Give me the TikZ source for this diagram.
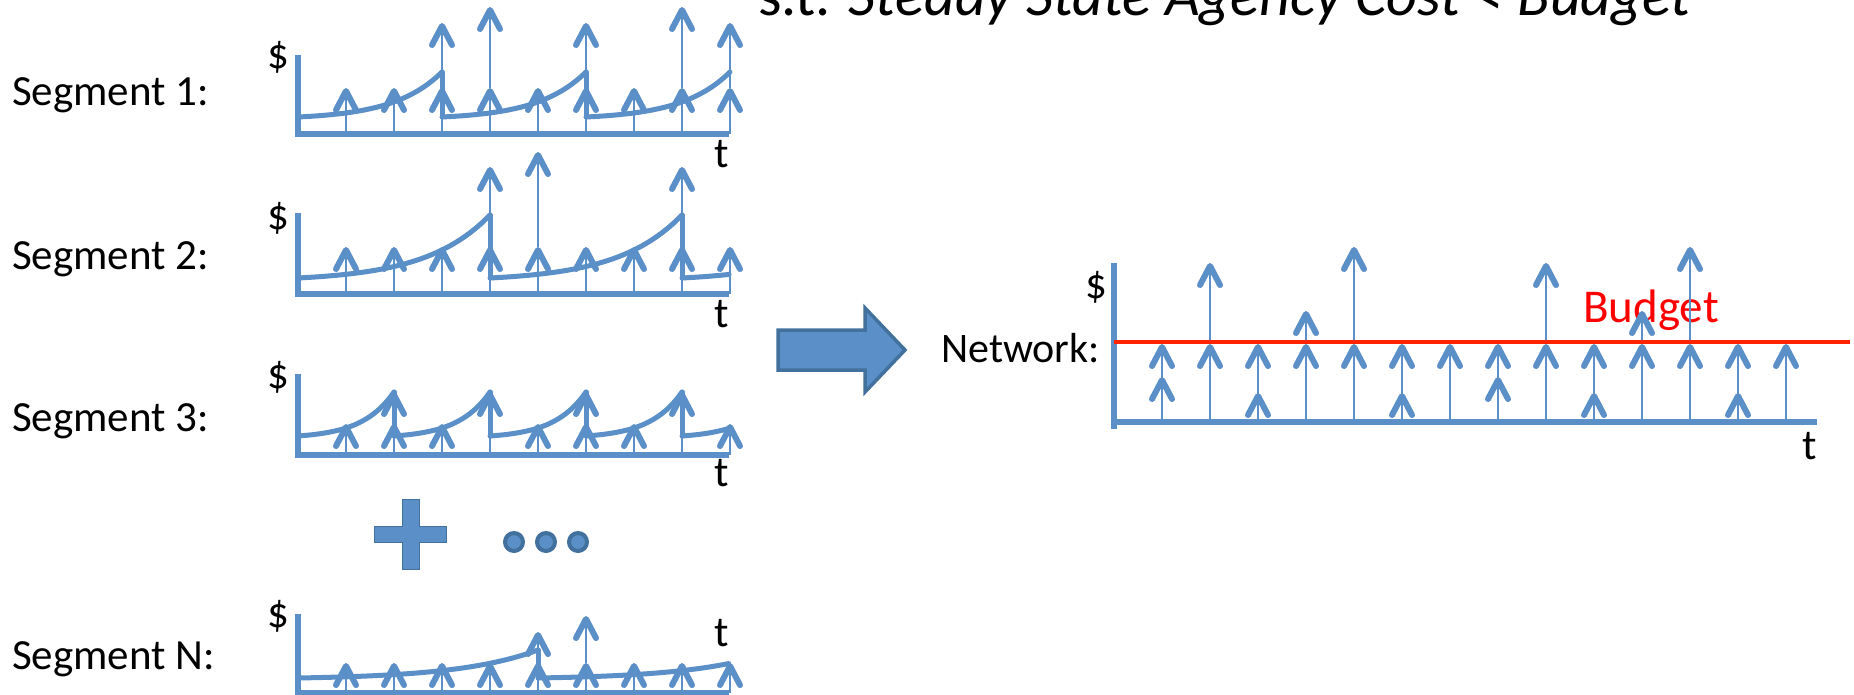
\documentclass[tikz,border=0pt]{standalone}
\usepackage{fontspec}
\setmainfont{Carlito}
\usetikzlibrary{arrows.meta}
\definecolor{costblue}{HTML}{5B8FC7}
\definecolor{edgeblue}{HTML}{41719C}
\definecolor{budgetred}{HTML}{FF2400}

\begin{document}
\begin{tikzpicture}[
    x=1pt, y=-1pt,
    chartaxis/.style={draw=costblue, line width=5.5pt},
    cost/.style={draw=costblue, line width=5pt, line cap=round},
    pay/.style={draw=costblue, line width=2pt, -{Straight Barb[length=19pt, width=20pt, line width=4pt 1, round]}},
    seglabel/.style={font=\fontsize{43}{50}\selectfont, inner sep=0pt},
    unit/.style={font=\fontsize{43}{50}\selectfont, inner sep=0pt}
]
\useasboundingbox (0,0) rectangle (1854,694);
\clip (0,0) rectangle (1854,694);

\node[anchor=base west, inner sep=0pt, font=\fontsize{60}{62}\selectfont] (title) at (758,15) {s.t. \textit{Steady State Agency Cost < Budget}};

% segment 1
\node[seglabel, anchor=base west] (seg1) at (12,105) {Segment 1:};
\node[unit] (dollar1) at (278,57) {\$};
\node[unit] (time1) at (722,154) {t};
\draw[chartaxis] (298,55) -- (298,134) -- (729,134);
\foreach \k in {1,...,9}
  \draw[pay] ({298+48*\k},134) -- ({298+48*\k},88);
\foreach \k/\h in {3/23,4/7,6/23,8/7,9/23}
  \draw[pay] ({298+48*\k},88) -- ({298+48*\k},\h);
\foreach \s in {298,442,586}
  \draw[cost] plot[domain=0:1, samples=30] ({\s+144*\x},{117-45*(exp(3*\x)-1)/19.0855});
\foreach \s in {442,586}
  \draw[cost] (\s,72) -- (\s,117);

% segment 2
\node[seglabel, anchor=base west] (seg2) at (12,269) {Segment 2:};
\node[unit] (dollar2) at (278,218) {\$};
\node[unit] (time2) at (722,314) {t};
\draw[chartaxis] (298,213) -- (298,294) -- (729,294);
\foreach \k in {1,...,9}
  \draw[pay] ({298+48*\k},294) -- ({298+48*\k},247);
\foreach \k/\h in {4/167,5/152,8/167}
  \draw[pay] ({298+48*\k},247) -- ({298+48*\k},\h);
\foreach \s in {298,490}
  \draw[cost] plot[domain=0:1, samples=30] ({\s+192*\x},{278-63*(exp(3*\x)-1)/19.0855});
\draw[cost] plot[domain=0:0.245, samples=10] ({682+192*\x},{278-63*(exp(3*\x)-1)/19.0855});
\foreach \s in {490,682}
  \draw[cost] (\s,215) -- (\s,278);

% segment 3
\node[seglabel, anchor=base west] (seg3) at (12,431) {Segment 3:};
\node[unit] (dollar3) at (278,377) {\$};
\node[unit] (time3) at (722,473) {t};
\draw[chartaxis] (298,374) -- (298,455) -- (729,455);
\foreach \k in {1,2,3,5,6,7,9}
  \draw[pay] ({298+48*\k},455) -- ({298+48*\k},424);
\foreach \k in {4,8}
  \draw[pay] ({298+48*\k},455) -- ({298+48*\k},392);
\foreach \k in {2,6}
  \draw[pay] ({298+48*\k},424) -- ({298+48*\k},392);
\foreach \s in {298,394,490,586}
  \draw[cost] plot[domain=0:1, samples=25] ({\s+96*\x},{436-44*(exp(3*\x)-1)/19.0855});
\draw[cost] plot[domain=0:0.49, samples=15] ({682+96*\x},{436-44*(exp(3*\x)-1)/19.0855});
\foreach \s in {394,490,586,682}
  \draw[cost] (\s,392) -- (\s,436);

% plus and dots
\draw[fill=costblue, draw=edgeblue, line width=1pt] (402,499) -- (419,499) -- (419,526) -- (446,526) -- (446,542) -- (419,542) -- (419,569) -- (402,569) -- (402,542) -- (374,542) -- (374,526) -- (402,526) -- cycle;
\foreach \d in {514,546,578}
  \draw[fill=costblue, draw=edgeblue, line width=4pt] (\d,542) circle (9pt);

% segment N
\node[seglabel, anchor=base west] (segN) at (12,669) {Segment N:};
\node[unit] (dollarN) at (278,616) {\$};
\node[unit] (timeN) at (722,633) {t};
\draw[chartaxis] (298,614) -- (298,693) -- (729,693);
\foreach \k in {1,...,9}
  \draw[pay] ({298+48*\k},693) -- ({298+48*\k},663);
\foreach \k/\h in {5/632,6/616}
  \draw[pay] ({298+48*\k},663) -- ({298+48*\k},\h);
\draw[cost] plot[domain=0:1, samples=30] ({298+240*\x},{678-28*(exp(3*\x)-1)/19.0855});
\draw[cost] plot[domain=0:0.795, samples=30] ({538+240*\x},{678-28*(exp(3*\x)-1)/19.0855});
\draw[cost] (538,650) -- (538,678);

% block arrow
\draw[fill=costblue, draw=edgeblue, line width=3.5pt] (778,330) -- (865,330) -- (865,308) -- (905,350) -- (865,392) -- (865,370) -- (778,370) -- cycle;

% network
\node[seglabel, font=\fontsize{42}{50}\selectfont, anchor=base east] (net) at (1100,362) {Network:};
\node[unit] (dollarnet) at (1096,287) {\$};
\node[unit] (timenet) at (1810,446) {t};
\node[anchor=base west, inner sep=0pt, text=red, font=\fontsize{47}{50}\selectfont] (budget) at (1583,322) {Budget};
\draw[chartaxis] (1114,263) -- (1114,429);
\draw[chartaxis] (1114,422) -- (1817,422);
\foreach \k in {1,...,14}
  \draw[pay] ({1114+48*\k},422) -- ({1114+48*\k},344);
\foreach \k/\h in {1/377,3/393,6/393,8/377,10/393,13/393}
  \draw[pay] ({1114+48*\k},422) -- ({1114+48*\k},\h);
\foreach \k/\h in {2/263,4/311,5/247,9/263,11/311,12/247}
  \draw[pay] ({1114+48*\k},344) -- ({1114+48*\k},\h);
\draw[budgetred, line width=4pt] (1114,342) -- (1850,342);

\end{tikzpicture}
\end{document}
